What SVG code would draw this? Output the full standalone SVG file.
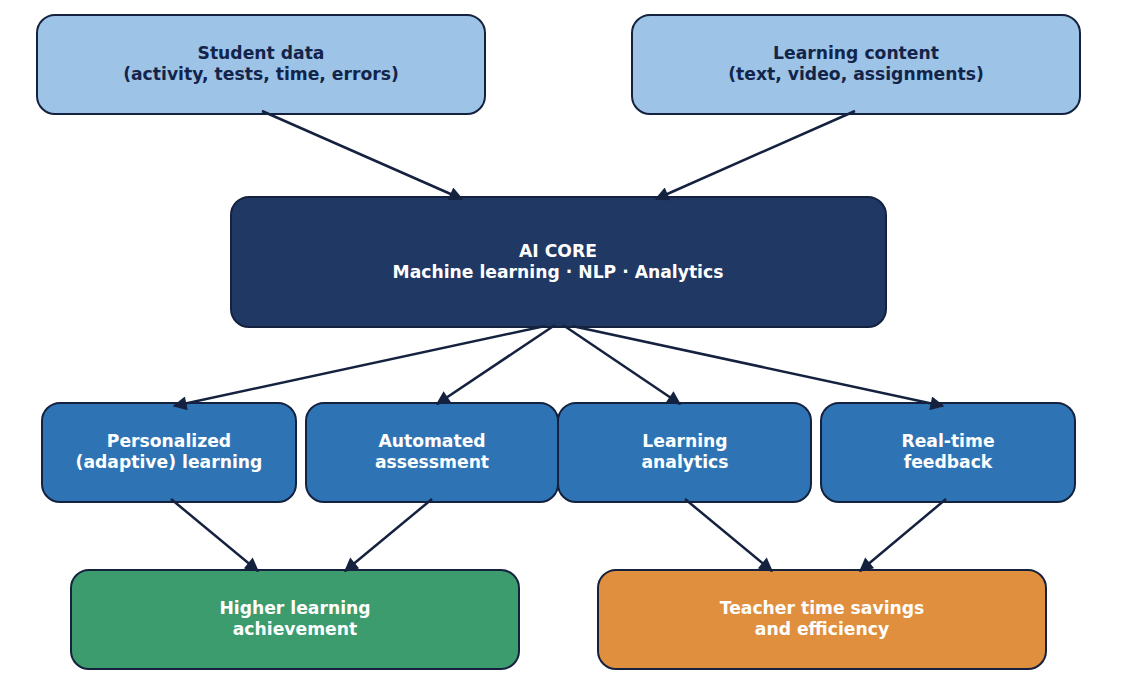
<svg xmlns="http://www.w3.org/2000/svg" width="1136" height="681" viewBox="0 0 1136 681">
<style>
.box{stroke:#15223f;stroke-width:2}
.t{font-family:"DejaVu Sans",sans-serif;font-weight:bold;font-size:17.2px;text-anchor:middle}
.dk{fill:#13244a}
.wt{fill:#ffffff}
.c{stroke:#15223f;stroke-width:2.5;fill:none;marker-end:url(#ah)}
</style>
<defs>
<marker id="ah" viewBox="0 0 10 10" refX="9" refY="5" markerWidth="6" markerHeight="5.6" markerUnits="strokeWidth" orient="auto">
<path d="M0,0 L10,5 L0,10 z" fill="#15223f"/>
</marker>
</defs>
<rect width="1136" height="681" fill="#ffffff"/>
<g id="student-data">
<rect class="box" x="37" y="15" width="448" height="99" rx="18" fill="#9dc3e6"/>
<text class="t dk" x="261" y="59">Student data</text>
<text class="t dk" x="261" y="80">(activity, tests, time, errors)</text>
</g>
<g id="learning-content">
<rect class="box" x="632" y="15" width="448" height="99" rx="18" fill="#9dc3e6"/>
<text class="t dk" x="856" y="59">Learning content</text>
<text class="t dk" x="856" y="80">(text, video, assignments)</text>
</g>
<g id="ai-core">
<rect class="box" x="231" y="197" width="655" height="130" rx="18" fill="#203864"/>
<text class="t wt" x="558" y="257">AI CORE</text>
<text class="t wt" x="558" y="278">Machine learning · NLP · Analytics</text>
</g>
<g id="personalized">
<rect class="box" x="42" y="403" width="254" height="99" rx="18" fill="#2e74b5"/>
<text class="t wt" x="169" y="447">Personalized</text>
<text class="t wt" x="169" y="468">(adaptive) learning</text>
</g>
<g id="assessment">
<rect class="box" x="306" y="403" width="252" height="99" rx="18" fill="#2e74b5"/>
<text class="t wt" x="432" y="447">Automated</text>
<text class="t wt" x="432" y="468">assessment</text>
</g>
<g id="analytics">
<rect class="box" x="558" y="403" width="253" height="99" rx="18" fill="#2e74b5"/>
<text class="t wt" x="685" y="447">Learning</text>
<text class="t wt" x="685" y="468">analytics</text>
</g>
<g id="feedback">
<rect class="box" x="821" y="403" width="254" height="99" rx="18" fill="#2e74b5"/>
<text class="t wt" x="948" y="447">Real-time</text>
<text class="t wt" x="948" y="468">feedback</text>
</g>
<g id="achievement">
<rect class="box" x="71" y="570" width="448" height="99" rx="18" fill="#3c9c6e"/>
<text class="t wt" x="295" y="614">Higher learning</text>
<text class="t wt" x="295" y="635">achievement</text>
</g>
<g id="teacher">
<rect class="box" x="598" y="570" width="448" height="99" rx="18" fill="#e08f3e"/>
<text class="t wt" x="822" y="614">Teacher time savings</text>
<text class="t wt" x="822" y="635">and efficiency</text>
</g>
<g id="connectors">
<line class="c" x1="262" y1="111" x2="462" y2="199"/>
<line class="c" x1="855" y1="111" x2="656" y2="199"/>
<line class="c" x1="545" y1="326" x2="174" y2="406"/>
<line class="c" x1="555" y1="325" x2="437" y2="404"/>
<line class="c" x1="563" y1="325" x2="680" y2="404"/>
<line class="c" x1="572" y1="326" x2="943" y2="406"/>
<line class="c" x1="171" y1="499" x2="258" y2="571"/>
<line class="c" x1="432" y1="499" x2="345" y2="571"/>
<line class="c" x1="685" y1="499" x2="772" y2="571"/>
<line class="c" x1="946" y1="499" x2="860" y2="571"/>
</g>
</svg>
